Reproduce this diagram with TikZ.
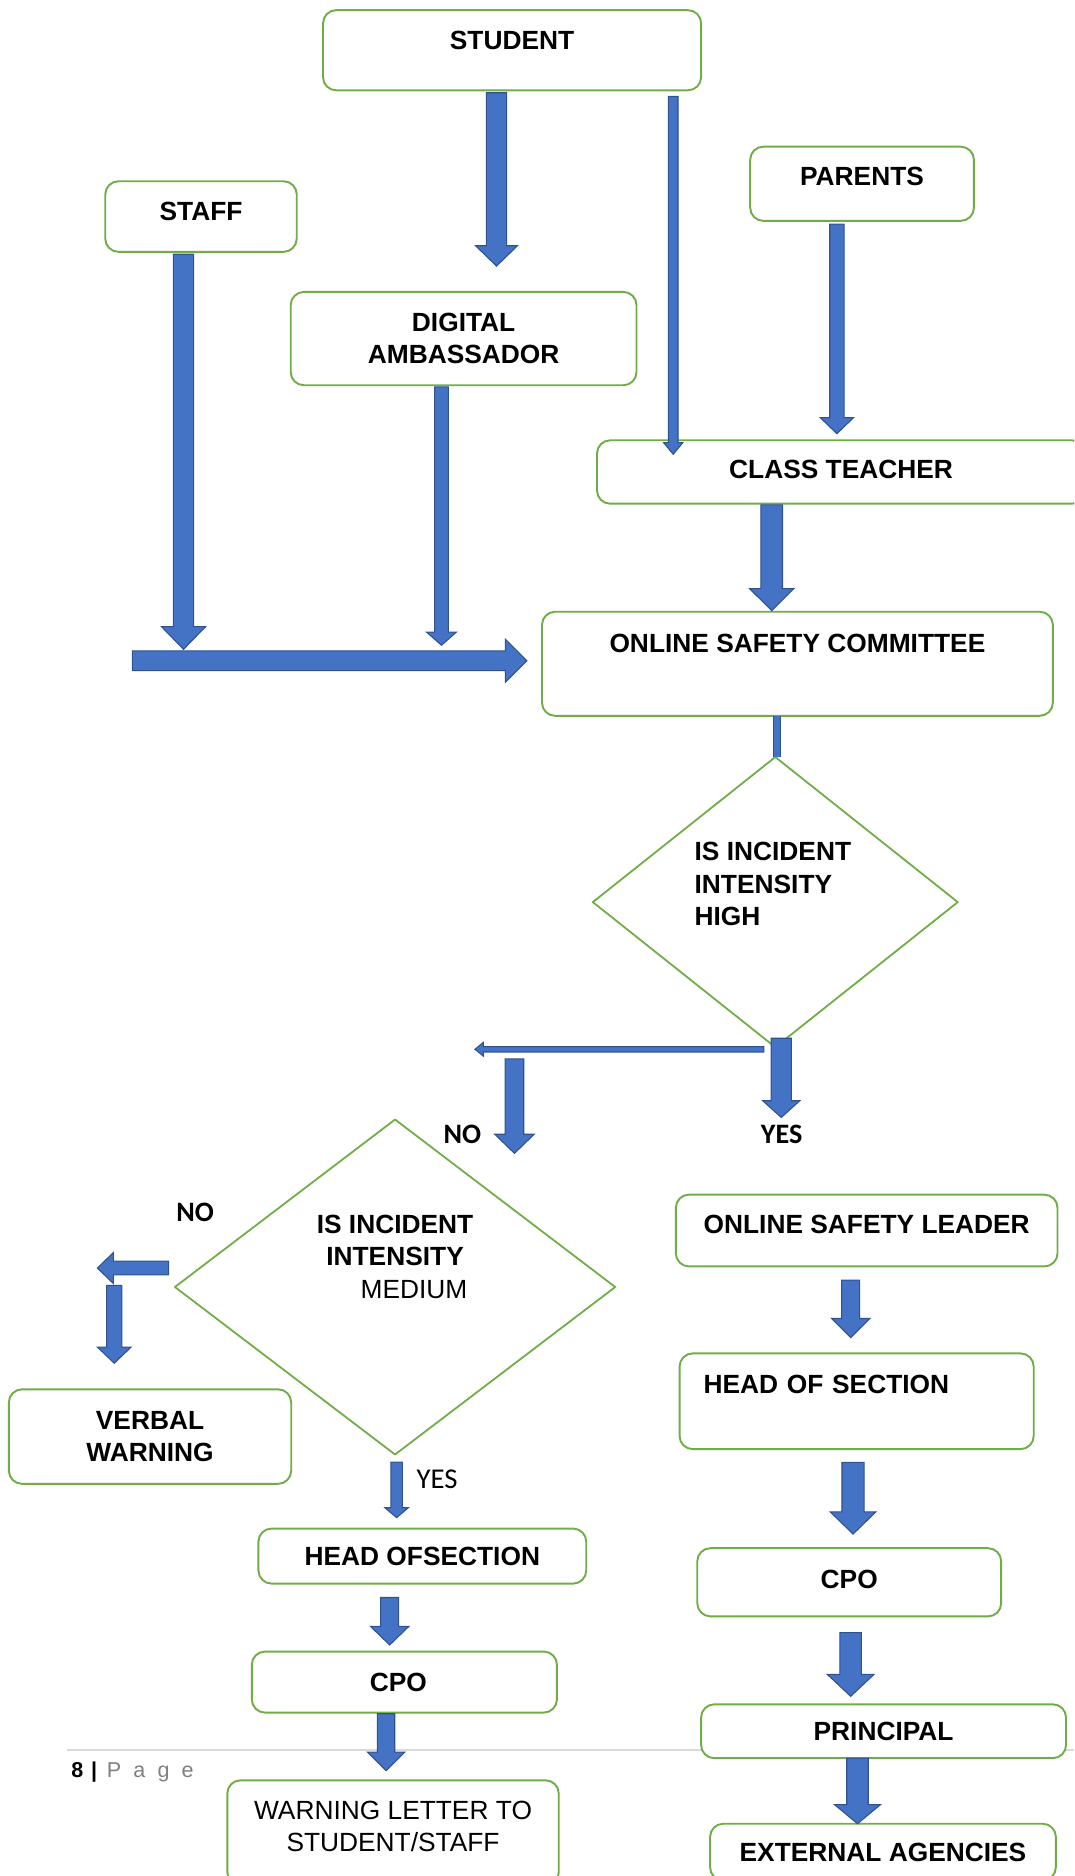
\documentclass[tikz,border=0pt]{standalone}
\usepackage{fontspec}
\setmainfont{Liberation Sans}
\newfontfamily\carlito{Carlito}
\usetikzlibrary{calc,shapes.geometric}

\definecolor{boxgreen}{HTML}{70AD47}
\definecolor{arrowblue}{HTML}{4472C4}
\definecolor{arrowedge}{HTML}{2F528F}
\definecolor{rulegray}{HTML}{D9D9D9}
\definecolor{pagegray}{HTML}{808080}

\tikzset{
  box/.style={draw=boxgreen,line width=1.6pt,rounded corners=11pt,fill=white,
    inner sep=0pt,outer sep=0pt,align=center,
    font=\fontsize{22}{27}\selectfont\bfseries},
  lift/.style={execute at end node={\rule[-#1]{0pt}{0pt}}},
  decision/.style={diamond,draw=boxgreen,line width=1.5pt,inner sep=0pt,outer sep=0pt},
  qtext/.style={inner sep=0pt,font=\fontsize{22}{27}\selectfont\bfseries},
  yesno/.style={inner sep=0pt,font=\carlito\fontsize{23.5}{28}\selectfont\bfseries},
  barrow/.style n args={3}{draw=arrowedge,line width=0.9pt,fill=arrowblue,
    line join=miter,
    to path={let \p1=(\tikztostart), \p2=(\tikztotarget),
      \n1={atan2(\y2-\y1,\x2-\x1)} in
      -- ($(\p1)+(\n1+90:#1/2)$)
      -- ($(\p2)+(\n1+180:#3)+(\n1+90:#1/2)$)
      -- ($(\p2)+(\n1+180:#3)+(\n1+90:#2/2)$)
      -- (\p2)
      -- ($(\p2)+(\n1+180:#3)+(\n1-90:#2/2)$)
      -- ($(\p2)+(\n1+180:#3)+(\n1-90:#1/2)$)
      -- ($(\p1)+(\n1-90:#1/2)$)
      -- cycle}},
  link/.style={draw=arrowedge,line width=0.8pt,double=arrowblue,
    double distance=5pt,line cap=butt}
}

\begin{document}
\begin{tikzpicture}[line cap=round,line join=round,x=1pt,y=-1pt]
\useasboundingbox (0,0) rectangle (898,1568);
\clip (0,0) rectangle (898,1568);

% page footer
\draw[rulegray,line width=1.6pt,line cap=butt] (56,1463) -- (898,1463);
\node[anchor=base west,inner sep=0pt,font=\fontsize{18}{22}\selectfont] (pagefoot) at (59.5,1485.5)
  {\textbf{8}\hspace{6.5pt}\textbf{|}\hspace{8pt}\textcolor{pagegray}{P\hspace{10.2pt}a\hspace{10.2pt}g\hspace{10.2pt}e}};

% reporting boxes
\node[box,lift=16.8pt,minimum width=316pt,minimum height=67pt] (student) at (428,42) {STUDENT};
\node[box,lift=9.4pt,minimum width=160pt,minimum height=59pt] (staff) at (168,181) {STAFF};
\node[box,lift=12.2pt,minimum width=187pt,minimum height=62pt] (parents) at (720.5,153.6) {PARENTS};
\node[box,minimum width=289pt,minimum height=78pt] (digamb) at (387.5,283) {DIGITAL\\AMBASSADOR};
\node[box,lift=4.4pt,minimum width=408pt,minimum height=53pt] (classt) at (703,394.5) {CLASS TEACHER};
\node[box,lift=34.4pt,minimum width=427pt,minimum height=87pt] (osc) at (666.5,554.8) {ONLINE SAFETY COMMITTEE};

% decisions
\node[decision,minimum width=305pt,minimum height=242.5pt] (dhigh) at (648,754) {};
\node[qtext,align=left] (hightxt) at (646,739) {IS INCIDENT\\INTENSITY\\HIGH};
\node[decision,minimum width=368pt,minimum height=280pt] (dmed) at (330.2,1075.7) {};
\node[qtext,align=center] (medtxt) at (330.2,1050.5)
  {IS INCIDENT\\INTENSITY\\\hspace*{31.6pt}{\mdseries MEDIUM}};

% right branch
\node[box,lift=9.8pt,minimum width=319pt,minimum height=60pt] (osl) at (724.4,1028.5) {ONLINE SAFETY LEADER};
\node[box,lift=28pt,align=left,text width=256pt,inner xsep=20pt,minimum width=296pt,minimum height=80pt] (hosr) at (716,1171.2) {HEAD OF SECTION};
\node[box,lift=4.4pt,minimum width=254pt,minimum height=57pt] (cpor) at (709.8,1322.5) {CPO};
\node[box,minimum width=305pt,minimum height=45pt] (prin) at (738.5,1447) {PRINCIPAL};
\node[box,minimum width=289pt,minimum height=47.4pt] (ext) at (738,1548) {EXTERNAL AGENCIES};

% left branch
\node[box,minimum width=236pt,minimum height=79pt] (verbal) at (125.4,1200.7) {VERBAL\\WARNING};
\node[box,minimum width=274pt,minimum height=46pt] (hosl) at (353,1300.6) {HEAD OFSECTION};
\node[box,minimum width=255pt,minimum height=51pt] (cpol) at (338,1405.9) {CPO\hspace{10pt}};
\node[box,lift=10.6pt,minimum width=277pt,minimum height=88pt,font=\fontsize{22}{27}\selectfont] (wlet) at (328.5,1532) {WARNING LETTER TO\\STUDENT/STAFF};

% answers
\node[yesno] (nohigh) at (386.5,947.8) {NO};
\node[yesno] (yeshigh) at (653.3,947.8) {YES};
\node[yesno] (nomed) at (163,1013) {NO};
\node[yesno,font=\carlito\fontsize{24}{28}\selectfont] (yesmed) at (365.4,1236.7) {YES};

% arrows
\coordinate (feed) at ($(osc.west)+(-342.4,-2.5)$);
\draw[barrow={17pt}{35pt}{17pt}] ($(student.south)+(-13,2)$) to ($(digamb.north)+(27.5,-21.6)$);
\draw[barrow={8pt}{16pt}{9.7pt}] ($(student.south)+(134.7,5)$) to ($(classt.north)+(-140.3,11.7)$);
\draw[barrow={12pt}{28pt}{13.5pt}] ($(parents.south)+(-21,2.8)$) to ($(classt.north)+(-3.5,-5.5)$);
\draw[barrow={17pt}{37pt}{19pt}] ($(staff.south)+(-14.6,2)$) to ($(feed)+(42.8,-9.6)$);
\draw[barrow={11.5pt}{25pt}{11pt}] ($(digamb.south)+(-18.5,1.3)$) to ($(feed)+(258.4,-13)$);
\draw[barrow={16.5pt}{36pt}{18pt}] (feed) to ($(osc.west)+(-12.6,-2.5)$);
\draw[barrow={18pt}{37pt}{18.3pt}] ($(classt.south)+(-58,1)$) to ($(osc.north)+(-21.5,-1)$);
\draw[link] ($(osc.south)+(-17,0)$) -- ($(dhigh.north)+(1.5,0)$);
\draw[barrow={17pt}{31pt}{14pt}] ($(dhigh.south)+(5,-7.5)$) to ($(osl.north)+(-71.4,-64.5)$);
\draw[barrow={4.5pt}{11.5pt}{7pt}] ($(dhigh.south)+(-9.5,1.75)$) to ($(dmed.north)+(66.8,-58.7)$);
\draw[barrow={15.5pt}{33pt}{16pt}] ($(dhigh.south)+(-218,9.75)$) to ($(dmed.north)+(99.8,28.3)$);
\draw[barrow={11.5pt}{26pt}{13.4pt}] ($(dmed.west)+(-5.3,-15.9)$) to ($(verbal.north)+(-44,-101.3)$);
\draw[barrow={12.7pt}{28pt}{13.4pt}] ($(verbal.north)+(-29.9,-86.8)$) to ($(verbal.north)+(-29.9,-21.8)$);
\draw[barrow={9.6pt}{19.5pt}{8.3pt}] ($(dmed.south)+(1.3,6.3)$) to ($(hosl.north)+(-21.5,-9.1)$);
\draw[barrow={15pt}{32pt}{15.5pt}] ($(hosl.south)+(-27.3,11.6)$) to ($(cpol.north)+(-12.3,-5.5)$);
\draw[barrow={14.5pt}{31pt}{15.5pt}] ($(cpol.south)+(-15.3,1)$) to ($(wlet.north)+(-5.8,-8)$);
\draw[barrow={15pt}{32pt}{16pt}] ($(osl.south)+(-13.4,11.4)$) to ($(hosr.north)+(-5,-13.2)$);
\draw[barrow={18.5pt}{38pt}{18.5pt}] ($(hosr.south)+(-3,11)$) to ($(cpor.north)+(3.2,-11.8)$);
\draw[barrow={18pt}{39pt}{18.3pt}] ($(cpor.south)+(1.2,13.6)$) to ($(prin.north)+(-27.5,-6.7)$);
\draw[barrow={18pt}{38.5pt}{16pt}] ($(prin.south)+(-21.8,0)$) to ($(ext.north)+(-21.3,0)$);

\end{tikzpicture}
\end{document}
